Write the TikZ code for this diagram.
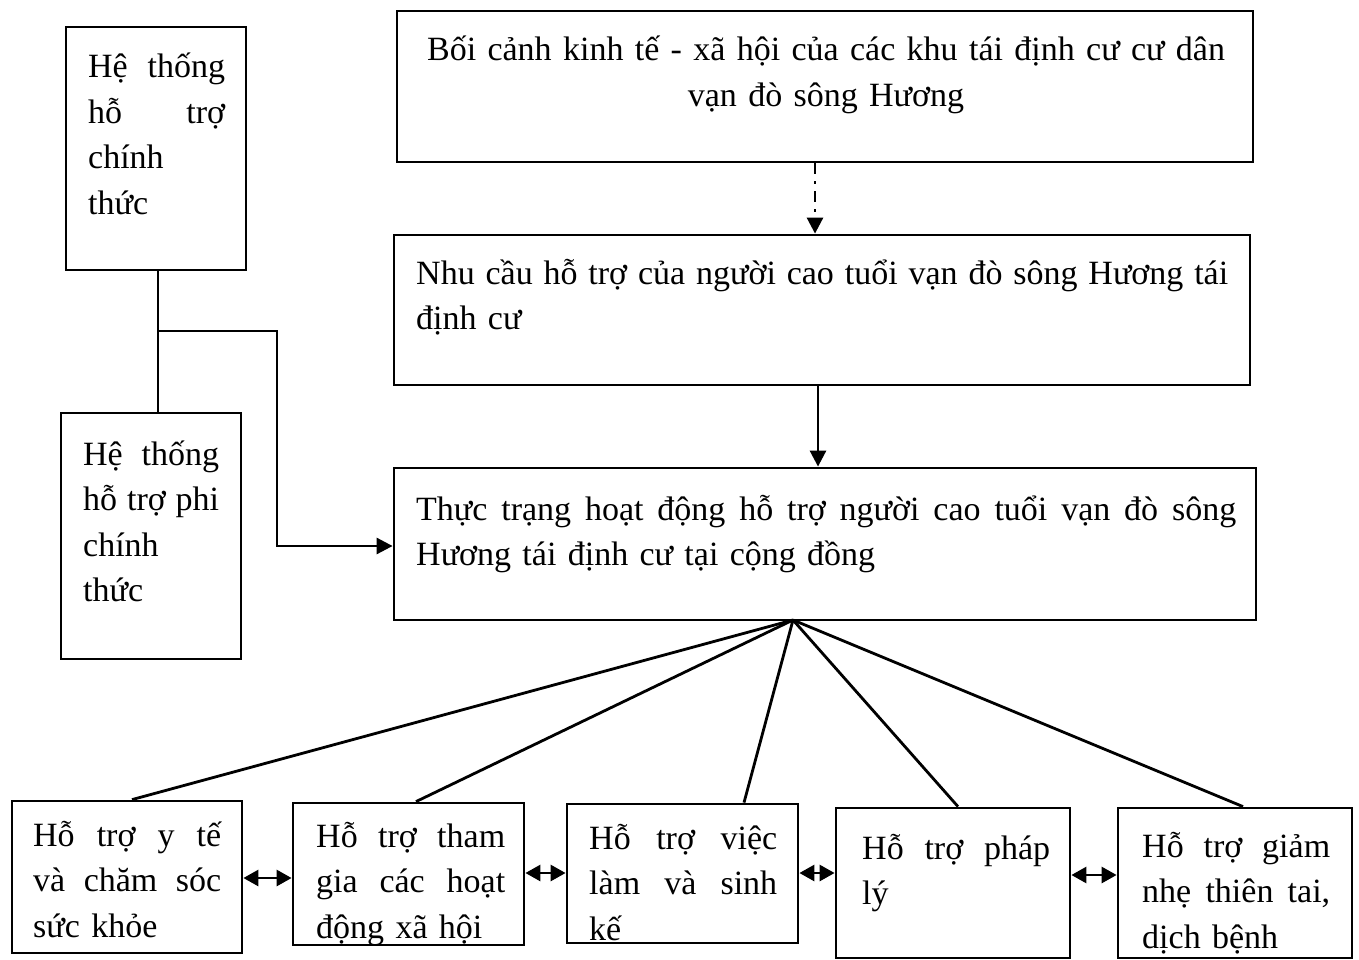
\documentclass[tikz,border=0pt]{standalone}
\usepackage{fontspec}
\setmainfont{Liberation Serif}
\usetikzlibrary{arrows.meta}
\setlength{\parindent}{0pt}
\begin{document}
\begin{tikzpicture}[x=1pt,y=-1pt,
  box/.style={draw, line width=2.8pt, inner sep=0pt, rectangle},
  txt/.style={inner sep=0pt, anchor=base west, align=left, font=\fontsize{34}{45.5}\selectfont},
  ctxt/.style={inner sep=0pt, anchor=base, align=center, font=\fontsize{34}{45.5}\selectfont},
  conn/.style={line width=2.8pt},
  tip/.style={line width=2.8pt, -{Triangle[length=16pt,width=16pt]}},
  dtip/.style={line width=2.8pt, {Triangle[length=15pt,width=16pt]}-{Triangle[length=15pt,width=16pt]}}
]
\useasboundingbox (0,0) rectangle (1359,960);
% boxes
\node[box, minimum width=180pt, minimum height=243pt] (A) at (156,148.5) {};
\node[box, minimum width=180pt, minimum height=246pt] (B) at (151,536) {};
\node[box, minimum width=856pt, minimum height=151pt] (C) at (825,86.5) {};
\node[box, minimum width=856pt, minimum height=150pt] (D) at (822,310) {};
\node[box, minimum width=862pt, minimum height=152pt] (E) at (825,544) {};
\node[box, minimum width=230pt, minimum height=152pt] (F1) at (127,877) {};
\node[box, minimum width=231pt, minimum height=142pt] (F2) at (408.5,874) {};
\node[box, minimum width=231pt, minimum height=139pt] (F3) at (682.5,873.5) {};
\node[box, minimum width=234pt, minimum height=150pt] (F4) at (953,883) {};
\node[box, minimum width=234pt, minimum height=150pt] (F5) at (1235,883) {};
% texts
\node[txt, text width=137pt] (tA) at (88,78) {Hệ\hfill thống\\ hỗ\hfill trợ\\ chính\\ thức};
\node[txt, text width=136pt] (tB) at (83,465) {Hệ\hfill thống\\ hỗ\hfill trợ\hfill phi\\ chính\\ thức};
\node[ctxt, text width=840pt] (tC) at (826,61) {Bối cảnh kinh tế - xã hội của các khu tái định cư cư dân\\ vạn đò sông Hương};
\node[txt, text width=812pt] (tD) at (416,284) {Nhu\hfill cầu\hfill hỗ\hfill trợ\hfill của\hfill người\hfill cao\hfill tuổi\hfill vạn\hfill đò\hfill sông\hfill Hương\hfill tái\\ định cư};
\node[txt, text width=820pt] (tE) at (416,520) {Thực\hfill trạng\hfill hoạt\hfill động\hfill hỗ\hfill trợ\hfill người\hfill cao\hfill tuổi\hfill vạn\hfill đò\hfill sông\\ Hương tái định cư tại cộng đồng};
\node[txt, text width=188pt] (tF1) at (33,846) {Hỗ\hfill trợ\hfill y\hfill tế\\ và\hfill chăm\hfill sóc\\ sức khỏe};
\node[txt, text width=189pt] (tF2) at (316,847) {Hỗ\hfill trợ\hfill tham\\ gia\hfill các\hfill hoạt\\ động xã hội};
\node[txt, text width=188pt] (tF3) at (589,849) {Hỗ\hfill trợ\hfill việc\\ làm\hfill và\hfill sinh\\ kế};
\node[txt, text width=188pt] (tF4) at (862,859) {Hỗ\hfill trợ\hfill pháp\\ lý};
\node[txt, text width=188pt] (tF5) at (1142,857) {Hỗ\hfill trợ\hfill giảm\\ nhẹ\hfill thiên\hfill tai,\\ dịch bệnh};
% helper coordinates
\coordinate (xd) at (815,0);
\coordinate (xs) at (818,0);
\coordinate (j) at (158,331);
\coordinate (k) at (277,546);
\coordinate (fan) at (793,620);
% connectors
\draw[tip, dash pattern=on 11pt off 7pt on 3pt off 7pt] (C.south -| xd) -- (D.north -| xd);
\draw[tip] (D.south -| xs) -- (E.north -| xs);
\draw[conn] (A.south -| j) -- (B.north -| j);
\draw[tip] (j) -| (k) -- (k -| E.west);
\draw[conn] (fan) -- ([xshift=5pt]F1.north);
\draw[conn] (fan) -- ([xshift=7.5pt]F2.north);
\draw[conn] (fan) -- ([xshift=61.5pt]F3.north);
\draw[conn] (fan) -- ([xshift=5pt]F4.north);
\draw[conn] (fan) -- ([xshift=8pt]F5.north);
\coordinate (y1) at (0,878);
\coordinate (y2) at (0,873);
\coordinate (y3) at (0,875);
\draw[dtip] (F1.east |- y1) -- (F2.west |- y1);
\draw[dtip] (F2.east |- y2) -- (F3.west |- y2);
\draw[dtip] (F3.east |- y2) -- (F4.west |- y2);
\draw[dtip] (F4.east |- y3) -- (F5.west |- y3);
\end{tikzpicture}
\end{document}
